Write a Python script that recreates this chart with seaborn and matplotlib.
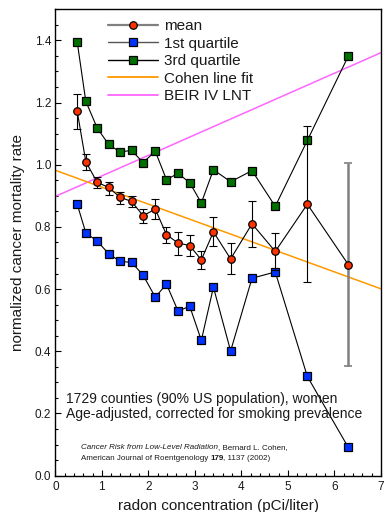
import matplotlib
matplotlib.use("Agg")
import matplotlib.pyplot as plt
from matplotlib.lines import Line2D
from matplotlib.ticker import MultipleLocator
from matplotlib.offsetbox import TextArea, HPacker, VPacker, AnchoredOffsetbox
import seaborn as sns
import pandas as pd

# ---- data ----
radon = [0.47, 0.655, 0.90, 1.147, 1.39, 1.64, 1.886, 2.15, 2.39, 2.64,
         2.89, 3.14, 3.40, 3.77, 4.23, 4.73, 5.42, 6.30]
mean_rate = [1.172, 1.010, 0.943, 0.927, 0.895, 0.882, 0.836, 0.857, 0.775, 0.748,
             0.740, 0.694, 0.784, 0.697, 0.810, 0.721, 0.873, 0.679]
mean_err_hi = [1.228, 1.035, 0.959, 0.944, 0.912, 0.900, 0.858, 0.890, 0.801, 0.783,
               0.775, 0.724, 0.832, 0.748, 0.883, 0.780, 1.123, 1.005]
mean_err_lo = [1.116, 0.984, 0.925, 0.904, 0.875, 0.863, 0.811, 0.825, 0.749, 0.710,
               0.707, 0.665, 0.737, 0.649, 0.735, 0.660, 0.622, 0.352]
q1_rate = [0.873, 0.781, 0.754, 0.714, 0.689, 0.686, 0.645, 0.574, 0.616, 0.529,
           0.545, 0.435, 0.606, 0.401, 0.635, 0.655, 0.319, 0.091]
q3_rate = [1.395, 1.204, 1.118, 1.065, 1.041, 1.046, 1.007, 1.043, 0.952, 0.972,
           0.942, 0.877, 0.984, 0.945, 0.981, 0.866, 1.078, 1.349]
fit_x = [0.0, 7.0]
cohen_fit = [0.982, 0.601]
beir_lnt = [0.898, 1.360]

labels = ["mean", "1st quartile", "3rd quartile", "Cohen line fit", "BEIR IV LNT"]

df = pd.DataFrame({"radon": radon, "mean": mean_rate, "q1": q1_rate, "q3": q3_rate,
                   "hi": mean_err_hi, "lo": mean_err_lo})
fits = pd.DataFrame({"x": fit_x, "cohen": cohen_fit, "beir": beir_lnt})

sns.set_style("ticks")
plt.rcParams["font.family"] = ["Liberation Sans", "DejaVu Sans"]

RED = "#ff3300"
BLUE = "#0033ff"
GREEN = "#007000"
ORANGE = "#ff9900"
PINK = "#ff66ff"
TXT = "#1a1a1a"

fig = plt.figure(figsize=(3.87, 5.12), dpi=100)
ax = fig.add_axes([0.143, 0.071, 0.841, 0.911])

sns.lineplot(data=fits, x="x", y="beir", color=PINK, lw=1.1, ax=ax, zorder=2)
sns.lineplot(data=fits, x="x", y="cohen", color=ORANGE, lw=1.1, ax=ax, zorder=2)

sns.lineplot(data=df, x="radon", y="q3", color="black", lw=0.8, marker="s",
             markersize=5.2, markerfacecolor=GREEN, markeredgecolor="black",
             markeredgewidth=0.9, sort=False, ax=ax, zorder=3)
sns.lineplot(data=df, x="radon", y="q1", color="black", lw=0.8, marker="s",
             markersize=5.2, markerfacecolor=BLUE, markeredgecolor="black",
             markeredgewidth=0.9, sort=False, ax=ax, zorder=3)

# error bars
n = len(radon)
lo = [m - l for m, l in zip(mean_rate, mean_err_lo)]
hi = [h - m for m, h in zip(mean_rate, mean_err_hi)]
ax.errorbar(radon[:n - 1], mean_rate[:n - 1], yerr=[lo[:n - 1], hi[:n - 1]],
            fmt="none", ecolor="black", elinewidth=0.8, capsize=2.6, capthick=0.8, zorder=3)
ax.errorbar(radon[n - 1:], mean_rate[n - 1:], yerr=[lo[n - 1:], hi[n - 1:]],
            fmt="none", ecolor="#808080", elinewidth=1.8, capsize=2.6, capthick=1.2, zorder=3)

sns.lineplot(data=df, x="radon", y="mean", color="black", lw=0.8, marker="o",
             markersize=5.4, markerfacecolor=RED, markeredgecolor="black",
             markeredgewidth=0.9, sort=False, ax=ax, zorder=4)

ax.set_xlim(0, 7)
ax.set_ylim(0, 1.5)
ax.xaxis.set_major_locator(MultipleLocator(1))
ax.xaxis.set_minor_locator(MultipleLocator(0.2))
ax.yaxis.set_major_locator(MultipleLocator(0.2))
ax.yaxis.set_minor_locator(MultipleLocator(0.05))
ax.set_yticklabels([f"{v:.1f}" for v in ax.get_yticks()])
ax.tick_params(which="both", direction="in", top=False, right=False, colors="black",
               labelcolor=TXT, labelsize=8.5, width=0.8)
ax.tick_params(axis="x", pad=4)
ax.tick_params(axis="y", pad=3)
ax.tick_params(which="major", length=4.5)
ax.tick_params(which="minor", length=2.5)
for s in ax.spines.values():
    s.set_linewidth(1.0)
    s.set_color("black")

ax.set_xlabel("radon concentration (pCi/liter)", fontsize=11, color=TXT, labelpad=4)
ax.set_ylabel("normalized cancer mortality rate", fontsize=11, color=TXT, labelpad=7)

handles = [
    Line2D([], [], color="#808080", lw=1.6, marker="o", markersize=5.4,
           markerfacecolor=RED, markeredgecolor="black", markeredgewidth=0.9),
    Line2D([], [], color="#555555", lw=1.0, marker="s", markersize=5.2,
           markerfacecolor=BLUE, markeredgecolor="black", markeredgewidth=0.9),
    Line2D([], [], color="black", lw=1.0, marker="s", markersize=5.2,
           markerfacecolor=GREEN, markeredgecolor="black", markeredgewidth=0.9),
    Line2D([], [], color=ORANGE, lw=1.3),
    Line2D([], [], color=PINK, lw=1.3),
]
leg = ax.legend(handles, labels, loc="upper left", bbox_to_anchor=(0.161, 0.978),
                frameon=False, fontsize=11, handlelength=3.3, handletextpad=0.4,
                labelspacing=0.22, borderpad=0, borderaxespad=0, labelcolor=TXT)

ax.text(0.033, 0.148, "1729 counties (90% US population), women\n"
        "Age-adjusted, corrected for smoking prevalence",
        transform=ax.transAxes, fontsize=10, color=TXT, linespacing=1.15, va="center")

# citation
cs = 5.8
line1 = HPacker(children=[
    TextArea("Cancer Risk from Low-Level Radiation",
             textprops=dict(fontsize=cs, style="italic", color=TXT)),
    TextArea(", Bernard L. Cohen,", textprops=dict(fontsize=cs, color=TXT)),
], pad=0, sep=0)
line2 = HPacker(children=[
    TextArea("American Journal of Roentgenology ", textprops=dict(fontsize=cs, color=TXT)),
    TextArea("179", textprops=dict(fontsize=cs, weight="bold", color=TXT)),
    TextArea(", 1137 (2002)", textprops=dict(fontsize=cs, color=TXT)),
], pad=0, sep=0)
cite = VPacker(children=[line1, line2], pad=0, sep=2.5, align="left")
ab = AnchoredOffsetbox(loc="lower left", child=cite, pad=0, borderpad=0,
                       frameon=False, bbox_to_anchor=(0.078, 0.03),
                       bbox_transform=ax.transAxes)
ax.add_artist(ab)

fig.savefig("out.png", dpi=100)
